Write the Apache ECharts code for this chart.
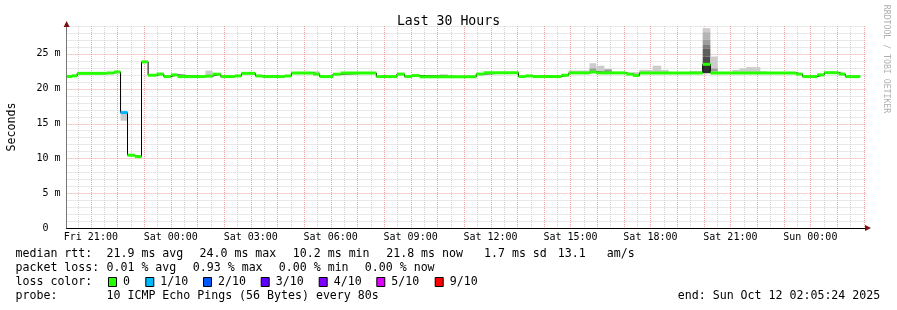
<!DOCTYPE html>
<html><head><meta charset="utf-8">
<script src="https://cdn.jsdelivr.net/npm/echarts@6/dist/echarts.min.js"></script>
<style>html,body{margin:0;padding:0;background:#fff}#c{width:897px;height:310px}</style>
</head><body><div id="c"></div>
<script>
// ---- time window (hours relative to Fri 21:00) ----
const windowStart = -0.91;   // Fri 20:05:24
const windowEnd = 29.09;     // Sun 02:05:24
const xTickHours = [0, 3, 6, 9, 12, 15, 18, 21, 24, 27];
const xTickLabels = ['Fri 21:00', 'Sat 00:00', 'Sat 03:00', 'Sat 06:00', 'Sat 09:00', 'Sat 12:00', 'Sat 15:00', 'Sat 18:00', 'Sat 21:00', 'Sun 00:00'];
const yMax = 29;
const yTickValues = [0, 5, 10, 15, 20, 25];
const yTickLabels = ['0  ', '5 m', '10 m', '15 m', '20 m', '25 m'];

// ---- median rtt (ms), step segments ----
const medianStart = [-0.900, -0.724, -0.514, 0.589, 0.8625, 1.114, 1.376, 1.650, 1.901, 2.149, 2.464, 2.738, 3.000, 3.251, 4.301, 4.564, 4.875, 5.400, 5.651, 6.176, 6.439, 7.275, 7.526, 8.336, 8.588, 9.086, 9.375, 10.714, 11.486, 11.775, 12.049, 12.338, 14.464, 14.738, 16.050, 16.313, 16.586, 17.651, 17.936, 18.713, 18.964, 20.089, 20.336, 20.588, 22.961, 23.250, 26.464, 26.711, 27.251, 27.525, 28.061, 28.313];
const medianEnd = 28.875;
const medianValue = [21.74, 21.84, 22.20, 22.25, 22.40, 16.57, 10.45, 10.25, 23.85, 21.93, 22.10, 21.74, 21.98, 21.74, 21.80, 22.08, 21.74, 21.83, 22.20, 21.83, 21.74, 21.83, 22.25, 22.10, 21.74, 22.08, 22.25, 21.74, 22.10, 21.74, 21.88, 21.70, 22.10, 22.30, 21.74, 21.83, 21.74, 21.93, 22.27, 22.40, 22.27, 22.10, 21.90, 22.27, 23.50, 22.27, 22.10, 21.74, 21.98, 22.30, 22.10, 21.74];
const medianLoss = [0, 0, 0, 0, 0, 1, 0, 0, 0, 0, 0, 0, 0, 0, 0, 0, 0, 0, 0, 0, 0, 0, 0, 0, 0, 0, 0, 0, 0, 0, 0, 0, 0, 0, 0, 0, 0, 0, 0, 0, 0, 0, 0, 0, 0, 0, 0, 0, 0, 0, 0, 0];

// ---- smoke (ping spread), level 1 = outermost band ----
const smokeStart = [1.114, 4.301, 8.336, 13.09, 17.09, 17.936, 18.713, 18.713, 18.964, 19.275, 19.275, 20.336, 20.588, 21.086, 21.401, 22.463, 22.961, 22.961, 22.961, 22.961, 22.961, 22.961, 22.961, 23.250, 23.250, 24.075, 24.338, 24.589, 25.125];
const smokeEnd   = [1.376, 4.564, 8.588, 13.40, 17.40, 18.713, 18.964, 18.964, 19.275, 19.549, 19.549, 20.588, 21.086, 21.401, 21.686, 22.961, 23.250, 23.250, 23.250, 23.250, 23.250, 23.250, 23.250, 23.524, 23.524, 24.338, 24.589, 25.125, 25.376];
const smokeLow   = [15.40, 21.80, 22.10, 21.88, 21.74, 22.27, 22.40, 22.45, 22.27, 22.27, 22.45, 21.90, 22.27, 22.27, 22.27, 22.27, 28.11, 27.01, 26.29, 25.72, 24.62, 23.52, 22.22, 22.27, 22.50, 22.27, 22.27, 22.27, 22.27];
const smokeHigh  = [16.50, 22.60, 22.50, 22.08, 21.95, 22.60, 23.66, 22.90, 23.30, 22.83, 22.75, 22.37, 22.70, 23.30, 22.70, 22.56, 28.69, 28.11, 27.01, 26.29, 25.72, 24.62, 23.52, 24.62, 22.90, 22.70, 22.90, 23.10, 22.50];
const smokeLevel = [1, 1, 1, 1, 1, 1, 1, 3, 1, 1, 3, 1, 1, 1, 1, 1, 1, 2, 3, 4, 5, 6, 7, 1, 3, 1, 1, 1, 1];

// ---- loss colour legend ----
const lossLevels = [0, 1, 2, 3, 4, 5, 9];
const lossLabels = ['0', '1/10', '2/10', '3/10', '4/10', '5/10', '9/10'];

// ---- stats text ----
const statsRtt = ['21.9 ms avg', '24.0 ms max', '10.2 ms min', '21.8 ms now', '1.7 ms sd', '13.1', 'am/s'];
const statsLoss = ['0.01 % avg', '0.93 % max', '0.00 % min', '0.00 % now'];
const probeText = '10 ICMP Echo Pings (56 Bytes) every 80s';
const endText = 'end: Sun Oct 12 02:05:24 2025';

// ================= styles / layout =================
const FONT = 'DejaVu Sans Mono';
const lossColors = {0: '#26ff00', 1: '#00b8ff', 2: '#0059ff', 3: '#5e00ff', 4: '#7e00ff', 5: '#dd00ff', 9: '#ff0000'};
const smokeGrays = ['#cccccc', '#b4b4b4', '#9c9c9c', '#7c7c7c', '#5e5e5e', '#4a4a4a', '#2f2f2f'];
const RED_GRID = '#f4a0a0', GRAY_GRID = '#d2d2d2';

const n = medianStart.length;
const segData = medianStart.map((t, i) => [t, i + 1 < n ? medianStart[i + 1] : medianEnd, medianValue[i], medianLoss[i]]);
const stepData = medianStart.map((t, i) => [t, medianValue[i]]).concat([[medianEnd, medianValue[n - 1]]]);
const smokeData = smokeStart.map((t, i) => [t, smokeEnd[i], smokeLow[i], smokeHigh[i], smokeLevel[i]]);

// grid lines: [value, 0 = vertical(time) / 1 = horizontal(ms), 1 = major]
const gridData = [];
for (let k = Math.ceil(windowStart * 2); k <= Math.floor(windowEnd * 2); k++) {
  const h = k / 2;
  gridData.push([h, 0, Number.isInteger(h) ? 1 : 0]);
}
for (let v = 1; v <= yMax; v++) gridData.push([v, 1, v % 5 === 0 ? 1 : 0]);

const graphics = [];
const tx = (x, y, text, extra) => Object.assign({type: 'text', x: x, y: y, silent: true,
  style: Object.assign({text: text, font: '11.6px "' + FONT + '"', fill: '#000', verticalAlign: 'middle'}, extra || {})});
const rowY = [254.3, 268.3, 282.3, 296.3];
graphics.push(tx(15.5, rowY[0], 'median rtt:'));
[106.5, 199.5, 292.8, 386.2, 484, 557.8, 606.8].forEach((x, i) => graphics.push(tx(x, rowY[0], statsRtt[i])));
graphics.push(tx(15.5, rowY[1], 'packet loss:'));
[106.5, 192.8, 278.8, 364.8].forEach((x, i) => graphics.push(tx(x, rowY[1], statsLoss[i])));
graphics.push(tx(15.5, rowY[2], 'loss color:'));
[108.5, 145.8, 203.5, 261.2, 319.2, 376.8, 435.2].forEach((x, i) => {
  graphics.push({type: 'rect', silent: true, shape: {x: x, y: 277.5, width: 8, height: 9},
    style: {fill: lossColors[lossLevels[i]], stroke: '#000', lineWidth: 1}});
  graphics.push(tx(x + 14.5, rowY[2], lossLabels[i]));
});
graphics.push(tx(15.5, rowY[3], 'probe:'));
graphics.push(tx(106.5, rowY[3], probeText));
graphics.push(tx(677.8, rowY[3], endText));
graphics.push({type: 'text', x: 886, y: 59, rotation: -Math.PI / 2, silent: true,
  style: {text: 'RRDTOOL / TOBI OETIKER', font: '8.2px "' + FONT + '"', fill: '#b0b0b0', align: 'center', verticalAlign: 'middle'}});

const chart = echarts.init(document.getElementById('c'), null, {renderer: 'canvas'});
chart.setOption({
  backgroundColor: '#ffffff',
  animation: false,
  title: {text: 'Last 30 Hours', left: 'center', top: 10,
    textStyle: {fontFamily: FONT, fontSize: 13.2, fontWeight: 'normal', color: '#000'}},
  grid: {left: 66.6, right: 31, top: 26, bottom: 82, containLabel: false, outerBoundsMode: 'none'},
  xAxis: [{
    type: 'value', min: windowStart, max: windowEnd,
    axisLine: {show: true, onZero: false, lineStyle: {color: '#000', width: 1}},
    axisTick: {show: false}, splitLine: {show: false},
    axisLabel: {customValues: xTickHours, margin: 4, fontFamily: FONT, fontSize: 10, color: '#000',
      formatter: v => { const i = xTickHours.indexOf(v); return i >= 0 ? xTickLabels[i] : ''; }}
  }, {
    type: 'value', min: windowStart, max: windowEnd, position: 'bottom',
    axisLine: {show: true, onZero: false, symbol: ['none', 'triangle'], symbolSize: [6, 6], symbolOffset: [0, 2],
      lineStyle: {color: '#7a1010', width: 0}},
    axisTick: {show: false}, axisLabel: {show: false}, splitLine: {show: false}
  }],
  yAxis: [{
    type: 'value', min: 0, max: yMax, interval: 5,
    name: 'Seconds', nameLocation: 'middle', nameRotate: 90, nameGap: 49,
    nameTextStyle: {fontFamily: FONT, fontSize: 11.6, color: '#000'},
    axisLine: {show: true, onZero: false, lineStyle: {color: '#777', width: 1}},
    axisTick: {show: false}, splitLine: {show: false},
    axisLabel: {margin: 6, fontFamily: FONT, fontSize: 10, color: '#000',
      formatter: v => { const i = yTickValues.indexOf(v); return i >= 0 ? yTickLabels[i] : ''; }}
  }, {
    type: 'value', min: 0, max: yMax, position: 'left', offset: 0,
    axisLine: {show: true, onZero: false, symbol: ['none', 'triangle'], symbolSize: [6, 6], symbolOffset: [0, 2],
      lineStyle: {color: '#7a1010', width: 0}},
    axisTick: {show: false}, axisLabel: {show: false}, splitLine: {show: false}
  }],
  graphic: graphics,
  series: [
    {
      type: 'custom', z: 0, silent: true, data: gridData, clip: true,
      encode: {x: 0},
      renderItem: (params, api) => {
        const cs = params.coordSys;
        const v = api.value(0), horiz = api.value(1) === 1, major = api.value(2) === 1;
        let shape;
        if (horiz) {
          const y = Math.round(api.coord([windowStart, v])[1]) + 0.5;
          shape = {x1: cs.x, y1: y, x2: cs.x + cs.width, y2: y};
        } else {
          const x = Math.round(api.coord([v, 0])[0]) + 0.5;
          shape = {x1: x, y1: cs.y, x2: x, y2: cs.y + cs.height};
        }
        return {type: 'line', shape: shape,
          style: {stroke: major ? RED_GRID : GRAY_GRID, lineWidth: 1, lineDash: [1, 1]}};
      }
    },
    {
      type: 'custom', z: 2, silent: true, data: smokeData,
      encode: {x: [0, 1], y: [2, 3]},
      renderItem: (params, api) => {
        const p0 = api.coord([api.value(0), api.value(3)]);
        const p1 = api.coord([api.value(1), api.value(2)]);
        return {type: 'rect', shape: {x: p0[0], y: p0[1], width: p1[0] - p0[0], height: p1[1] - p0[1]},
          style: {fill: smokeGrays[api.value(4) - 1]}};
      }
    },
    {
      type: 'line', z: 3, step: 'end', data: stepData, symbol: 'none', silent: true,
      lineStyle: {color: '#000', width: 1}
    },
    {
      type: 'custom', z: 4, silent: true, data: segData,
      encode: {x: [0, 1], y: 2},
      renderItem: (params, api) => {
        const p0 = api.coord([api.value(0), api.value(2)]);
        const p1 = api.coord([api.value(1), api.value(2)]);
        return {type: 'rect', shape: {x: p0[0], y: p0[1] - 1.5, width: p1[0] - p0[0], height: 3},
          style: {fill: lossColors[api.value(3)]}};
      }
    }
  ]
});
</script></body></html>
